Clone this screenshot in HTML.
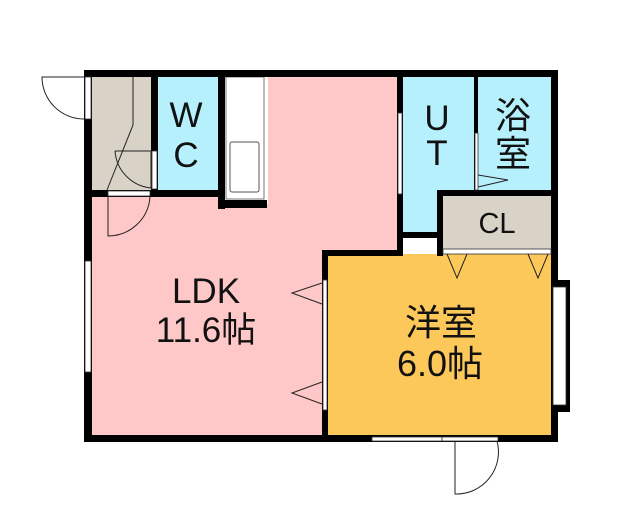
<!DOCTYPE html>
<html><head><meta charset="utf-8"><style>body{margin:0;background:#fff}svg{display:block}</style></head><body>
<svg width="640" height="512" viewBox="0 0 640 512" xmlns="http://www.w3.org/2000/svg" font-family="Liberation Sans, Noto Sans CJK JP, sans-serif">
<rect x="90" y="75" width="310" height="365" fill="#ffc8c8"/>
<rect x="325" y="252" width="230" height="186" fill="#fdc85a"/>
<rect x="91" y="76" width="61" height="116" fill="#d8d3c6"/>
<rect x="157" y="76" width="62" height="116" fill="#b5f0fc"/>
<rect x="224" y="76" width="44" height="128" fill="#fff"/>
<rect x="226" y="77" width="38" height="122" fill="#fff" stroke="#555" stroke-width="0.8"/>
<rect x="230" y="142" width="29" height="50" fill="#fff" stroke="#555" stroke-width="1" rx="2"/>
<rect x="402" y="76" width="74" height="158" fill="#b5f0fc"/>
<rect x="477" y="76" width="76" height="116" fill="#b5f0fc"/>
<rect x="442" y="195" width="110" height="54" fill="#d8d3c6"/>
<rect x="402" y="236" width="36" height="18" fill="#fff"/>
<g fill="#000">
<rect x="84" y="70" width="474" height="7"/>
<rect x="84" y="70" width="8" height="372"/>
<rect x="84" y="435" width="474" height="7"/>
<rect x="551" y="70" width="7" height="372"/>
<rect x="151" y="70" width="7" height="127"/>
<rect x="84" y="190" width="141" height="7"/>
<rect x="218" y="70" width="7" height="139"/>
<rect x="218" y="200" width="49" height="8"/>
<rect x="397" y="70" width="6" height="186"/>
<rect x="474" y="70" width="4" height="125"/>
<rect x="437" y="190" width="121" height="6"/>
<rect x="437" y="190" width="6" height="66"/>
<rect x="397" y="232" width="46" height="6"/>
<rect x="322" y="250" width="81" height="6"/>
<rect x="322" y="250" width="6" height="192"/>
<rect x="551" y="280" width="19" height="132"/>
</g>
<g fill="#fff" stroke="#333" stroke-width="0.8">
<rect x="85" y="77" width="6" height="42"/>
<rect x="152" y="151" width="5" height="38"/>
<rect x="108" y="191" width="42" height="5"/>
<rect x="85" y="261" width="6" height="111"/>
<rect x="323" y="280" width="4" height="130"/>
<rect x="398" y="113" width="4" height="81"/>
<rect x="475" y="133" width="3" height="57"/>
<rect x="443" y="249" width="108" height="5"/>
<rect x="553" y="287" width="13" height="118"/>
<rect x="372" y="437" width="70" height="4"/>
<rect x="442" y="437" width="56" height="4"/>
</g>
<g fill="none" stroke="#222" stroke-width="1">
<path d="M84 77 L42 77 A42 42 0 0 0 84 119"/>
<path d="M108 197 L108 236 A42 42 0 0 0 150 197"/>
<path d="M133 77 L133 125 L107 190"/>
<path d="M115 151 L151 151 L151 188 A40 40 0 0 1 115 151"/>
<path d="M455 441 L455 494 A42 42 0 0 0 497 441"/>
<path d="M478 175 L508 180 L478 187"/>
<path d="M322 283 L292 293 L322 304"/>
<path d="M322 382 L292 393 L322 404"/>
<path d="M447 254 L457 278 L467 254"/>
<path d="M528 254 L538 278 L548 254"/>
</g>
<g fill="#111" font-size="35" text-anchor="middle">
<text x="186" y="127">W</text>
<text x="186" y="167">C</text>
<text x="437" y="130">U</text>
<text x="437" y="165">T</text>
<text x="513" y="128" font-size="36">浴</text>
<text x="513" y="166" font-size="36">室</text>
<text x="497" y="233" font-size="29">CL</text>
<text x="206" y="303">LDK</text>
<text x="206" y="342">11.6帖</text>
<text x="441" y="335" font-size="36">洋室</text>
<text x="440" y="376" font-size="36">6.0帖</text>
</g>
</svg>
</body></html>
